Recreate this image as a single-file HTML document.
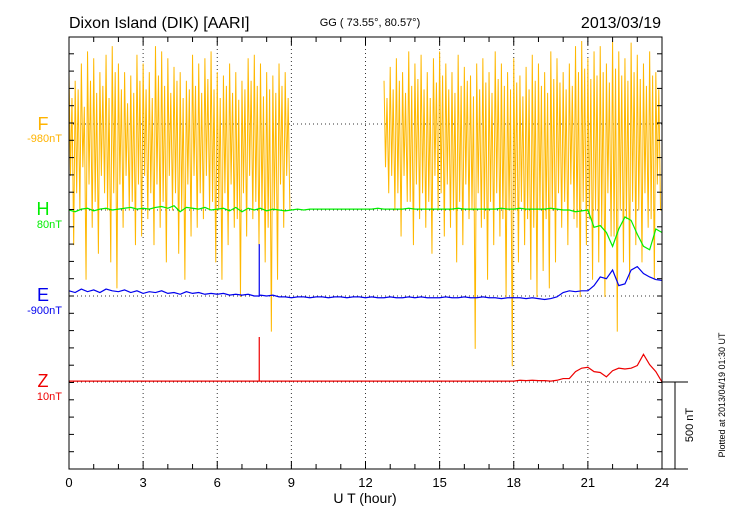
<!DOCTYPE html>
<html><head><meta charset="utf-8"><style>
body{margin:0;background:#fff;font-family:"Liberation Sans",sans-serif}
svg{display:block}
</style></head><body>
<svg id="chart" width="730" height="520" xmlns="http://www.w3.org/2000/svg" font-family="Liberation Sans, sans-serif">
<text x="69" y="28" font-size="16">Dixon Island (DIK)  [AARI]</text>
<text x="370" y="26" font-size="11" text-anchor="middle">GG ( 73.55°,  80.57°)</text>
<text x="661" y="28" font-size="16" text-anchor="end">2013/03/19</text>
<text x="43" y="130" font-size="18" fill="#ffb300" text-anchor="middle">F</text>
<text x="62" y="142" font-size="11" fill="#ffb300" text-anchor="end">-980nT</text>
<text x="43" y="215" font-size="18" fill="#00ee00" text-anchor="middle">H</text>
<text x="62" y="228" font-size="11" fill="#00ee00" text-anchor="end">80nT</text>
<text x="43" y="301" font-size="18" fill="#0000ee" text-anchor="middle">E</text>
<text x="62" y="314" font-size="11" fill="#0000ee" text-anchor="end">-900nT</text>
<text x="43" y="387" font-size="18" fill="#ee0000" text-anchor="middle">Z</text>
<text x="62" y="400" font-size="11" fill="#ee0000" text-anchor="end">10nT</text>
<text x="365" y="503" font-size="14" text-anchor="middle">U T (hour)</text>
<text transform="translate(693,425) rotate(-90)" font-size="11" text-anchor="middle">500 nT</text>
<text transform="translate(725,395) rotate(-90)" font-size="9" text-anchor="middle">Plotted at 2013/04/19 01:30 UT</text>
<g id="grid"></g><g id="series"></g><g id="axes"></g>
</svg>
<script>
const hoursTicks=[0,3,6,9,12,15,18,21,24];
const fHi=[300,250,350,420,380,300,400,450,350,300,280,400,350,300,450,420,380,330,300,250,400,350,380,420,300,280,350,300,250,380,400,350,300,280,350,300,
null,null,null,null,null,null,null,null,null,null,null,null,null,null,null,
250,330,380,300,420,350,400,300,380,420,350,300,400,330,280,350,380,300,420,350,300,380,280,330,400,350,300,420,380,300,350,450,480,380,420,450,350,480,420,380,470,400,350,420,300];
const fLo=[-700,-500,-900,-600,-750,-400,-800,-950,-600,-500,-700,-650,-550,-700,-600,-800,-500,-750,-900,-650,-600,-550,-500,-800,-900,-700,-600,-1000,-650,-550,-700,-800,-1200,-900,-600,-500,
null,null,null,null,null,null,null,null,null,null,null,null,null,null,null,
-400,-500,-650,-450,-700,-550,-600,-750,-500,-650,-600,-800,-700,-550,-1300,-600,-900,-700,-650,-1000,-1400,-800,-700,-900,-1000,-850,-950,-800,-600,-700,-550,-1000,-700,-900,-800,-1000,-650,-1200,-800,-900,-700,-800,-600,-900,-500];
const fHi2=[150,200,100,250,180,220,150,300,200,120,180,250,200,150,280,220,180,250,150,200,220,180,260,200,150,220,180,140,200,250,220,160,200,180,220,150,
null,null,null,null,null,null,null,null,null,null,null,null,null,null,null,
150,200,250,180,220,260,200,150,240,280,200,180,220,250,160,200,240,180,260,220,200,240,160,200,250,220,180,260,240,200,220,300,320,260,280,300,240,320,280,250,300,260,220,280,200];
const fLo2=[-300,-400,-250,-350,-450,-300,-500,-400,-350,-300,-450,-350,-300,-400,-350,-450,-300,-400,-500,-350,-300,-400,-300,-450,-500,-400,-350,-550,-400,-300,-450,-500,-600,-500,-350,-300,
null,null,null,null,null,null,null,null,null,null,null,null,null,null,null,
-250,-300,-400,-300,-450,-350,-400,-450,-300,-400,-350,-500,-450,-350,-500,-400,-550,-450,-400,-550,-500,-500,-450,-550,-600,-500,-550,-500,-400,-450,-350,-600,-450,-550,-500,-600,-400,-650,-500,-550,-450,-500,-400,-550,-350];
const hVals=[0,-10,5,10,-5,5,10,0,5,10,15,5,10,5,15,20,10,25,-10,15,10,5,15,0,5,10,-5,15,-10,10,0,10,-5,5,0,-5,
0,5,0,5,5,5,5,5,5,5,5,5,5,5,10,5,5,5,5,10,5,5,5,5,5,5,5,10,5,5,5,5,5,5,10,5,
5,10,5,5,5,5,10,5,0,0,-10,-5,
0,-100,-90,-130,-210,-110,-40,-60,-140,-210,-230,-110,-130];
const eVals=[30,20,40,25,35,20,40,30,25,35,20,30,15,25,20,30,15,20,10,25,15,20,10,15,10,15,5,10,5,10,0,5,0,5,-5,-5,
-10,-5,-5,-10,-5,-5,-10,-5,-5,-10,-5,-5,-10,-5,-10,-10,-5,-10,-10,-5,-10,-5,-10,-10,
-10,-5,-10,-10,-5,-10,-10,-5,-10,-10,-15,-10,
-10,-10,-15,-10,-15,-20,-15,-5,20,30,25,30,
30,60,110,100,150,60,70,150,170,130,110,95,90];
const zVals=[5,5,5,5,5,5,5,5,5,5,5,5,5,5,5,5,5,5,5,5,5,5,5,5,5,5,5,5,5,5,5,5,5,5,5,5,
5,5,5,5,5,5,5,5,5,5,5,5,5,5,5,5,5,5,5,5,5,5,5,5,5,5,5,5,5,5,5,5,5,5,5,5,
5,10,8,10,8,8,5,10,20,20,60,80,
85,60,55,30,65,80,75,80,95,160,100,60,0];
const spikeHour=7.7;
const spikeE=300;
const spikeZ=260;
const base={F:124,H:210,E:296,Z:382};
const X0=69,X1=662,Y0=37,Y1=469,K=0.173;
const xs=h=>X0+(X1-X0)*h/24;
const ys=(b,v)=>b-v*K;
const NS='http://www.w3.org/2000/svg';
function mk(tag,attrs,parent){const e=document.createElementNS(NS,tag);for(const k in attrs)e.setAttribute(k,attrs[k]);parent.appendChild(e);return e;}
const grid=document.getElementById('grid'),ser=document.getElementById('series'),ax=document.getElementById('axes');
hoursTicks.slice(1,-1).forEach(h=>{const l=mk('line',{x1:xs(h),x2:xs(h),y1:Y0,y2:Y1,stroke:'#333','stroke-width':1,'stroke-dasharray':'1,3'},grid);

});
Object.values(base).forEach(b=>{const l=mk('line',{x1:X0,x2:X1,y1:b,y2:b,stroke:'#333','stroke-width':1,'stroke-dasharray':'1,3'},grid);

});
let segs=[],cur=[];
for(let i=0;i<fHi.length;i++){if(fHi[i]==null){if(cur.length)segs.push(cur);cur=[];continue;}
const t=i*0.25;
cur.push([xs(t),ys(base.F,fHi[i])]);
cur.push([xs(t+0.06),ys(base.F,fLo2[i])]);
cur.push([xs(t+0.12),ys(base.F,fHi2[i])]);
cur.push([xs(t+0.19),ys(base.F,fLo[i])]);}
if(cur.length)segs.push(cur);
segs.forEach(s=>{const p=mk('polyline',{points:s.map(q=>q.join(',')).join(' '),fill:'none',stroke:'#ffb800','stroke-width':1},ser);

});
function line(vals,b,col,name,spike){const pts=[];vals.forEach((v,i)=>{const t=i*0.25;pts.push([xs(t),ys(b,v)]);
if(spike!=null&&t<spikeHour&&t+0.25>spikeHour){pts.push([xs(spikeHour),ys(b,v)]);pts.push([xs(spikeHour),ys(b,spike)]);pts.push([xs(spikeHour),ys(b,v)]);}});
const p=mk('polyline',{points:pts.map(q=>q.join(',')).join(' '),fill:'none',stroke:col,'stroke-width':1.2},ser);

}
line(hVals,base.H,'#00ee00','h-series',null);
line(eVals,base.E,'#0000ee','e-series',spikeE);
line(zVals,base.Z,'#ee0000','z-series',spikeZ);
const fr=mk('rect',{x:X0,y:Y0,width:X1-X0,height:Y1-Y0,fill:'none',stroke:'#000','stroke-width':1},ax);


for(let h=0;h<=24;h++){const big=h%3==0;
mk('line',{x1:xs(h),x2:xs(h),y1:Y0,y2:Y0+(big?8:5),stroke:'#000'},ax);
mk('line',{x1:xs(h),x2:xs(h),y1:Y1,y2:Y1-(big?8:5),stroke:'#000'},ax);}
for(let y=Y1;y>Y0;y-=17.3){mk('line',{x1:X0,x2:X0+5,y1:y,y2:y,stroke:'#000'},ax);mk('line',{x1:X1,x2:X1-5,y1:y,y2:y,stroke:'#000'},ax);}
hoursTicks.forEach(h=>{const t=mk('text',{x:xs(h),y:487,'font-size':13,'text-anchor':'middle'},ax);t.textContent=h;

});
const sb=mk('path',{d:`M${X1},382 H688 M675,382 V469 M${X1},469 H688`,stroke:'#000',fill:'none'},ax);


</script>
</body></html>
